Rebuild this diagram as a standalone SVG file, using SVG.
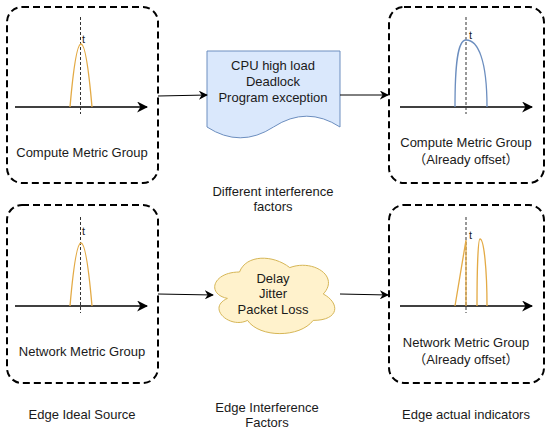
<svg xmlns="http://www.w3.org/2000/svg" width="550" height="435" viewBox="0 0 550 435">
<defs>
<style>
text{font-family:"Liberation Sans","Noto Sans CJK SC",Arial,sans-serif;font-size:13px;fill:#1a1a1a;text-anchor:middle}
.t{font-size:11px;text-anchor:start}
.box{fill:none;stroke:#000;stroke-width:2;stroke-dasharray:7 4}
.axis{stroke:#000;stroke-width:1.3;fill:none}
.vd{stroke:#333;stroke-width:1;stroke-dasharray:3 2}
.pk{fill:none;stroke:#e3aa45;stroke-width:1.3}
.pb{fill:none;stroke:#6c8ebf;stroke-width:1.3}
.conn{stroke:#000;stroke-width:1;fill:none}
</style>
<marker id="ah" viewBox="0 0 10 10" refX="9" refY="5" markerWidth="9" markerHeight="9" markerUnits="userSpaceOnUse" orient="auto">
<path d="M0,0 L10,5 L0,10 L3,5 Z" fill="#000"/>
</marker>
<marker id="ax" viewBox="0 0 10 10" refX="9" refY="5" markerWidth="11" markerHeight="11" markerUnits="userSpaceOnUse" orient="auto">
<path d="M0,0 L10,5 L0,10 L3,5 Z" fill="#000"/>
</marker>
</defs>
<rect width="550" height="435" fill="#fff"/>

<g id="compute-source">
<rect class="box" x="7" y="7" width="151" height="176" rx="15"/>
<line class="axis" x1="15" y1="107" x2="147" y2="107" marker-end="url(#ax)"/>
<line class="vd" x1="80.5" y1="17" x2="80.5" y2="114"/>
<path class="pk" d="M70,107 Q81,-19 92,107"/>
<text class="t" x="82" y="43">t</text>
<text x="82" y="157">Compute Metric Group</text>
</g>

<g id="compute-factors">
<path d="M207,51 H340 V127 Q306.75,105.4 273.5,127 Q240.25,148.6 207,127 Z" fill="#dae8fc" stroke="#6c8ebf" stroke-width="1"/>
<text x="273" y="70">CPU high load</text>
<text x="273" y="86">Deadlock</text>
<text x="273" y="102">Program exception</text>
</g>

<g id="compute-actual">
<rect class="box" x="389" y="7" width="155" height="176" rx="15"/>
<line class="axis" x1="400" y1="107" x2="532" y2="107" marker-end="url(#ax)"/>
<line class="vd" x1="466" y1="17" x2="466" y2="114"/>
<path class="pb" d="M455,107 C455,68 457,40 466,40 C478,40 487,60 487,107"/>
<text class="t" x="469" y="39">t</text>
<text x="466" y="147">Compute Metric Group</text>
<text x="466" y="164">（Already offset）</text>
</g>

<g id="label-different">
<text x="273" y="196">Different interference</text>
<text x="273" y="211">factors</text>
</g>

<g id="network-source">
<rect class="box" x="7" y="205" width="151" height="178" rx="15"/>
<line class="axis" x1="15" y1="306" x2="147" y2="306" marker-end="url(#ax)"/>
<line class="vd" x1="80.5" y1="217" x2="80.5" y2="313"/>
<path class="pk" d="M70,306 Q81,180 92,306"/>
<text class="t" x="82" y="235">t</text>
<text x="82" y="356">Network Metric Group</text>
</g>

<g id="network-factors">
<path d="M239.5,272 C212.7,272 206,294 227.4,298.4 C206,308.1 230.1,329.2 247.5,320.4 C259.6,338 299.8,338 313.2,320.4 C340,320.4 340,302.8 323.25,294 C340,276.4 313.2,258.8 289.75,267.6 C273,254.4 246.2,254.4 239.5,272 Z" fill="#fff2cc" stroke="#d6b656" stroke-width="1"/>
<text x="273" y="283">Delay</text>
<text x="273" y="298">Jitter</text>
<text x="273" y="314">Packet Loss</text>
</g>

<g id="network-actual">
<rect class="box" x="389" y="205" width="155" height="178" rx="15"/>
<line class="axis" x1="400" y1="306" x2="532" y2="306" marker-end="url(#ax)"/>
<line class="vd" x1="466" y1="217" x2="466" y2="313"/>
<path class="pk" d="M455,306 L466,240 L466,306"/>
<path class="pk" d="M477,306 C477,270 478,239 480,239 C484,239 487,270 487,306"/>
<text class="t" x="469" y="239">t</text>
<text x="466" y="347">Network Metric Group</text>
<text x="466" y="364">（Already offset）</text>
</g>

<g id="bottom-labels">
<text x="82" y="419">Edge Ideal Source</text>
<text x="267" y="412">Edge Interference</text>
<text x="267" y="427">Factors</text>
<text x="466" y="419">Edge actual indicators</text>
</g>

<g id="connectors">
<line class="conn" x1="158" y1="96" x2="207" y2="95" marker-end="url(#ah)"/>
<line class="conn" x1="340" y1="95" x2="388" y2="95" marker-end="url(#ah)"/>
<line class="conn" x1="158" y1="294" x2="213" y2="295" marker-end="url(#ah)"/>
<line class="conn" x1="340" y1="294" x2="388" y2="295" marker-end="url(#ah)"/>
</g>
</svg>
